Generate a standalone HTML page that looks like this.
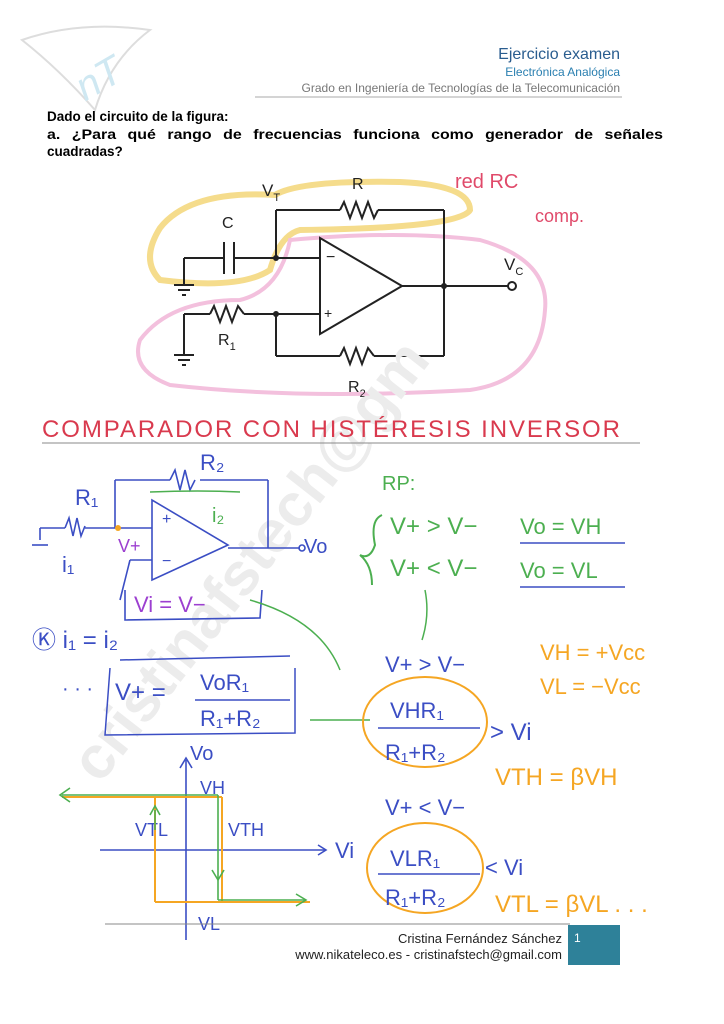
<!DOCTYPE html>
<html><head><meta charset="utf-8"><style>
html,body{margin:0;padding:0;background:#fff;}
svg{display:block;}
text{font-family:"Liberation Sans",sans-serif;}
</style></head><body>
<svg width="724" height="1024" viewBox="0 0 724 1024" xmlns="http://www.w3.org/2000/svg">
<rect width="724" height="1024" fill="#fff"/>
<!-- logo -->
<path d="M22 40 Q80 20 150 30 Q110 60 95 110 Q60 70 22 40Z" fill="none" stroke="#ddd" stroke-width="2"/>
<text x="70" y="95" font-size="40" fill="#cfe8f2" transform="rotate(-30 90 70)" font-style="italic">nT</text>
<!-- header -->
<text x="620" y="59" font-size="16" fill="#2a5d8f" text-anchor="end">Ejercicio examen</text>
<text x="620" y="76" font-size="12" fill="#2a7fb0" text-anchor="end">Electrónica Analógica</text>
<text x="620" y="92" font-size="12" fill="#777" text-anchor="end">Grado en Ingeniería de Tecnologías de la Telecomunicación</text>
<line x1="255" y1="97" x2="622" y2="97" stroke="#aaa" stroke-width="1"/>
<text x="47" y="121" font-size="13.5" font-weight="bold" fill="#000">Dado el circuito de la figura:</text>
<text x="47" y="139" font-size="13.5" font-weight="bold" fill="#000" textLength="616" lengthAdjust="spacingAndGlyphs" word-spacing="6">a. ¿Para qué rango de frecuencias funciona como generador de señales</text>
<text x="47" y="156" font-size="13.5" font-weight="bold" fill="#000">cuadradas?</text>
<!-- highlights -->
<path d="M275 195 Q300 180 400 182 Q470 185 470 210 Q460 228 300 230 Q280 235 270 270 Q240 290 160 280 Q140 260 160 228 Q190 190 275 195Z" fill="none" stroke="#f5dc8c" stroke-width="6"/>
<path d="M290 240 Q400 230 480 240 Q550 260 545 310 Q540 380 470 390 Q300 400 170 385 Q130 370 140 340 Q170 300 240 300 Q280 290 290 240Z" fill="none" stroke="#f3c0dd" stroke-width="4"/>
<text x="455" y="188" font-size="20" fill="#e04a6a">red RC</text>
<text x="535" y="222" font-size="18" fill="#e04a6a">comp.</text>
<!-- circuit -->
<g stroke="#222" stroke-width="2" fill="none">
<line x1="184" y1="258" x2="224" y2="258"/><line x1="224" y1="242" x2="224" y2="274"/><line x1="234" y1="242" x2="234" y2="274"/><line x1="234" y1="258" x2="320" y2="258"/>
<line x1="184" y1="258" x2="184" y2="285"/><line x1="174" y1="285" x2="194" y2="285"/><line x1="178" y1="290" x2="190" y2="290"/><line x1="182" y1="295" x2="186" y2="295"/>
<line x1="276" y1="258" x2="276" y2="210"/><line x1="276" y1="210" x2="340" y2="210"/>
<polyline points="340,210 344,202 350,218 356,202 362,218 368,202 374,218 378,210"/>
<line x1="378" y1="210" x2="444" y2="210"/><line x1="444" y1="210" x2="444" y2="356"/>
<polygon points="320,238 320,334 402,286"/>
<line x1="402" y1="286" x2="508" y2="286"/><circle cx="512" cy="286" r="4"/>
<line x1="276" y1="314" x2="320" y2="314"/><line x1="276" y1="314" x2="276" y2="356"/>
<line x1="184" y1="314" x2="210" y2="314"/>
<polyline points="210,314 214,306 220,322 226,306 232,322 238,306 244,314"/>
<line x1="244" y1="314" x2="276" y2="314"/>
<line x1="184" y1="314" x2="184" y2="355"/><line x1="174" y1="355" x2="194" y2="355"/><line x1="178" y1="360" x2="190" y2="360"/><line x1="182" y1="365" x2="186" y2="365"/>
<line x1="276" y1="356" x2="340" y2="356"/>
<polyline points="340,356 344,348 350,364 356,348 362,364 368,348 374,356"/>
<line x1="374" y1="356" x2="444" y2="356"/>
</g>
<circle cx="276" cy="258" r="3" fill="#222"/><circle cx="444" cy="286" r="3" fill="#222"/><circle cx="276" cy="314" r="3" fill="#222"/>
<text x="326" y="262" font-size="16" fill="#222">−</text><text x="324" y="318" font-size="14" fill="#222">+</text>
<text x="262" y="196" font-size="17" fill="#222">V<tspan font-size="11" dy="5">T</tspan></text>
<text x="352" y="189" font-size="16" fill="#222">R</text>
<text x="222" y="228" font-size="16" fill="#222">C</text>
<text x="504" y="270" font-size="17" fill="#222">V<tspan font-size="11" dy="5">C</tspan></text>
<text x="218" y="345" font-size="16" fill="#222">R<tspan font-size="11" dy="5">1</tspan></text>
<text x="348" y="392" font-size="16" fill="#222">R<tspan font-size="11" dy="5">2</tspan></text>
<!-- watermark -->
<text x="100" y="785" font-size="60" fill="#ececec" transform="rotate(-52 100 785)" font-weight="bold">cristinafstech@gm</text>
<text x="42" y="437" font-size="24" fill="#d93a4e" textLength="580" letter-spacing="2">COMPARADOR CON HISTÉRESIS INVERSOR</text>
<line x1="42" y1="443" x2="640" y2="443" stroke="#888" stroke-width="1"/>
<!-- hand circuit -->
<g stroke="#3b4ec4" stroke-width="1.6" fill="none">
<polygon points="152,500 152,580 228,545"/>
<line x1="228" y1="548" x2="300" y2="548"/><circle cx="302" cy="548" r="3"/>
<line x1="115" y1="528" x2="152" y2="528"/><line x1="115" y1="480" x2="115" y2="528"/>
<line x1="115" y1="480" x2="170" y2="480"/>
<path d="M170 480 l5 -10 l5 20 l5 -20 l5 20 l5 -10"/>
<line x1="200" y1="480" x2="268" y2="480"/><line x1="268" y1="480" x2="268" y2="548"/>
<line x1="40" y1="528" x2="65" y2="528"/><path d="M65 528 l4 -10 l4 18 l4 -18 l4 18 l4 -10"/><line x1="85" y1="528" x2="115" y2="528"/>
<line x1="40" y1="528" x2="40" y2="540"/><line x1="32" y1="545" x2="48" y2="545"/>
<line x1="130" y1="560" x2="152" y2="560"/><line x1="130" y1="560" x2="120" y2="600"/>
<path d="M125 590 L125 620 L260 618 L262 590"/>
</g>
<text x="162" y="524" font-size="16" fill="#3b4ec4">+</text><text x="162" y="566" font-size="16" fill="#3b4ec4">−</text>
<text x="75" y="505" font-size="22" fill="#3b4ec4">R₁</text>
<text x="200" y="470" font-size="22" fill="#3b4ec4">R₂</text>
<text x="304" y="553" font-size="20" fill="#3b4ec4">Vo</text>
<text x="62" y="572" font-size="22" fill="#3b4ec4">i₁</text>
<text x="212" y="522" font-size="20" fill="#4caf50">i₂</text>
<text x="118" y="552" font-size="18" fill="#9c3fd0">V+</text>
<circle cx="118" cy="528" r="3" fill="#f5a623"/>
<text x="134" y="612" font-size="22" fill="#9c3fd0">Vi = V−</text>
<path d="M150 492 Q200 490 240 492" stroke="#4caf50" fill="none" stroke-width="1.5"/>
<text x="382" y="490" font-size="20" fill="#4caf50">RP:</text>
<path d="M382 515 Q370 520 375 545 Q370 560 360 555 Q372 565 372 585" stroke="#4caf50" fill="none" stroke-width="2"/>
<text x="390" y="534" font-size="24" fill="#4caf50">V+ &gt; V−</text>
<text x="390" y="576" font-size="24" fill="#4caf50">V+ &lt; V−</text>
<text x="520" y="534" font-size="22" fill="#4caf50">Vo = VH</text>
<line x1="520" y1="543" x2="625" y2="543" stroke="#3b4ec4" stroke-width="1.5"/>
<text x="520" y="578" font-size="22" fill="#4caf50">Vo = VL</text>
<line x1="520" y1="587" x2="625" y2="587" stroke="#3b4ec4" stroke-width="1.5"/>
<path d="M425 590 Q430 615 422 640" stroke="#4caf50" fill="none" stroke-width="1.5"/>
<text x="32" y="648" font-size="24" fill="#3b4ec4">Ⓚ i₁ = i₂</text>
<line x1="120" y1="660" x2="290" y2="656" stroke="#3b4ec4" stroke-width="1.5"/>
<path d="M110 668 L105 735 L295 733 L295 668" stroke="#3b4ec4" fill="none" stroke-width="1.5"/>
<text x="62" y="695" font-size="20" fill="#3b4ec4">· · ·</text>
<text x="115" y="700" font-size="24" fill="#3b4ec4">V+ =</text>
<text x="200" y="690" font-size="22" fill="#3b4ec4">VoR₁</text>
<line x1="195" y1="700" x2="290" y2="700" stroke="#3b4ec4" stroke-width="1.5"/>
<text x="200" y="726" font-size="22" fill="#3b4ec4">R₁+R₂</text>
<path d="M250 600 Q320 620 340 670" stroke="#4caf50" fill="none" stroke-width="1.5"/>
<line x1="310" y1="720" x2="370" y2="720" stroke="#4caf50" stroke-width="1.5"/>
<text x="540" y="660" font-size="22" fill="#f5a623">VH = +Vcc</text>
<text x="540" y="694" font-size="22" fill="#f5a623">VL = −Vcc</text>
<text x="385" y="672" font-size="22" fill="#3b4ec4">V+ &gt; V−</text>
<ellipse cx="425" cy="722" rx="62" ry="45" fill="none" stroke="#f5a623" stroke-width="2"/>
<text x="390" y="718" font-size="22" fill="#3b4ec4">VHR₁</text>
<line x1="378" y1="728" x2="480" y2="728" stroke="#3b4ec4" stroke-width="1.5"/>
<text x="385" y="760" font-size="22" fill="#3b4ec4">R₁+R₂</text>
<text x="490" y="740" font-size="24" fill="#3b4ec4">&gt; Vi</text>
<text x="495" y="785" font-size="24" fill="#f5a623">VTH = βVH</text>
<text x="385" y="815" font-size="22" fill="#3b4ec4">V+ &lt; V−</text>
<ellipse cx="425" cy="868" rx="58" ry="45" fill="none" stroke="#f5a623" stroke-width="2"/>
<text x="390" y="866" font-size="22" fill="#3b4ec4">VLR₁</text>
<line x1="378" y1="874" x2="480" y2="874" stroke="#3b4ec4" stroke-width="1.5"/>
<text x="385" y="905" font-size="22" fill="#3b4ec4">R₁+R₂</text>
<text x="485" y="875" font-size="22" fill="#3b4ec4">&lt; Vi</text>
<text x="495" y="912" font-size="24" fill="#f5a623">VTL = βVL . . .</text>
<!-- graph -->
<g stroke="#3b4ec4" stroke-width="1.6" fill="none">
<line x1="186" y1="760" x2="186" y2="940"/><line x1="100" y1="850" x2="325" y2="850"/>
<path d="M180 768 L186 758 L192 768"/><path d="M318 845 L326 850 L318 855"/>
</g>
<text x="190" y="760" font-size="20" fill="#3b4ec4">Vo</text>
<text x="200" y="794" font-size="18" fill="#3b4ec4">VH</text>
<text x="135" y="836" font-size="18" fill="#3b4ec4">VTL</text>
<text x="228" y="836" font-size="18" fill="#3b4ec4">VTH</text>
<text x="335" y="858" font-size="22" fill="#3b4ec4">Vi</text>
<text x="198" y="930" font-size="18" fill="#3b4ec4">VL</text>
<g stroke="#f5a623" stroke-width="2" fill="none">
<line x1="62" y1="797" x2="222" y2="797"/><line x1="155" y1="797" x2="155" y2="902"/><line x1="155" y1="902" x2="310" y2="902"/>
<line x1="222" y1="797" x2="222" y2="902"/>
</g>
<g stroke="#4caf50" stroke-width="1.6" fill="none">
<line x1="62" y1="795" x2="218" y2="795"/><path d="M70 788 L60 795 L70 802"/>
<line x1="218" y1="795" x2="218" y2="900"/><path d="M212 870 L218 880 L224 870"/>
<line x1="218" y1="900" x2="305" y2="900"/><path d="M296 894 L306 900 L296 906"/>
<line x1="155" y1="810" x2="155" y2="830"/><path d="M150 815 L155 806 L160 815"/>
</g>
<!-- footer -->
<line x1="105" y1="924" x2="570" y2="924" stroke="#888" stroke-width="1"/>
<text x="562" y="943" font-size="13" fill="#222" text-anchor="end">Cristina Fernández Sánchez</text>
<text x="562" y="959" font-size="13" fill="#222" text-anchor="end">www.nikateleco.es - cristinafstech@gmail.com</text>
<rect x="568" y="925" width="52" height="40" fill="#2e8199"/>
<text x="574" y="942" font-size="12" fill="#fff">1</text>
</svg>
</body></html>
